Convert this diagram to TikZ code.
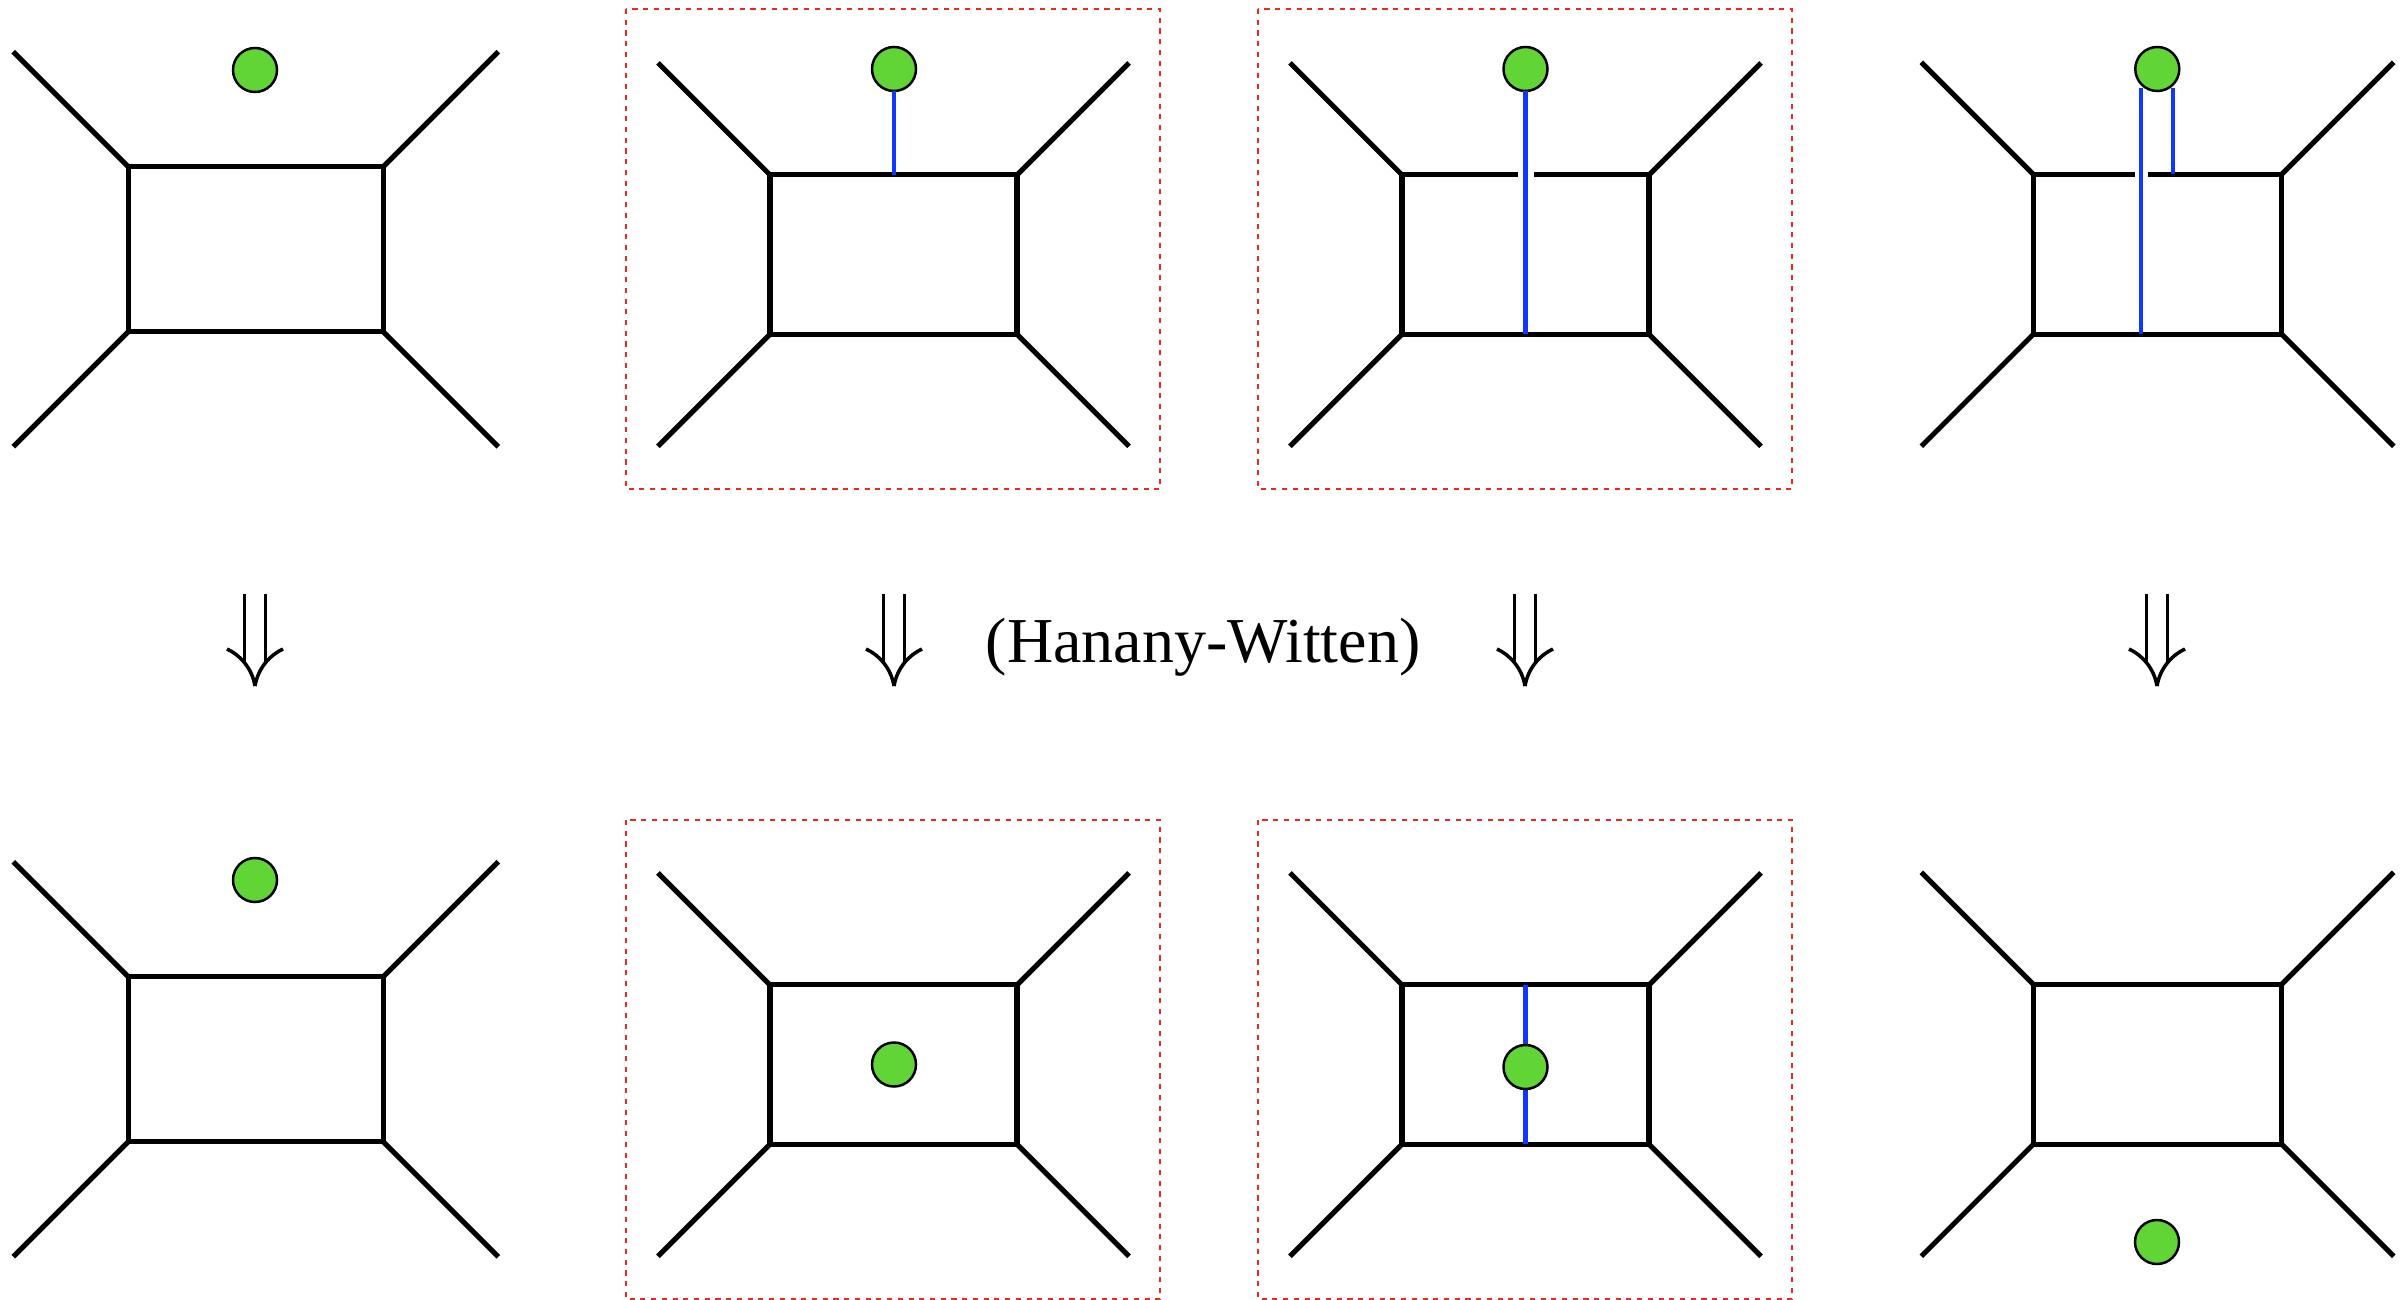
\documentclass[tikz,border=0pt]{standalone}
\usepackage{fontspec}
\setmainfont{Liberation Serif}
\usetikzlibrary{calc}
\definecolor{ballgreen}{RGB}{98,213,54}
\definecolor{dblue}{RGB}{15,55,255}
\definecolor{dred}{RGB}{237,40,30}
\tikzset{
  bk/.style={black, line width=1.45pt, line cap=butt, line join=miter},
  bl/.style={dblue, line width=1.4pt},
  ball/.style={circle, fill=ballgreen, draw=black, line width=0.7pt, minimum size=0.44cm, inner sep=0pt, outer sep=0pt},
  redbox/.style={dred, line width=0.8pt, dash pattern=on 1.45pt off 1.6pt},
  gapw/.style={white, line width=1.9pt},
  arrw/.style={black, line width=1pt},
  lbl/.style={font=\fontsize{18.2}{22}\selectfont, anchor=base, inner sep=0pt}
}
% #1 name, #2 cx, #3 cy, #4 half width, #5 half height, #6 leg length
\newcommand\hwpanel[6]{%
  \coordinate (#1-tl) at ({#2-#4},{#3-#5});
  \coordinate (#1-tr) at ({#2+#4},{#3-#5});
  \coordinate (#1-bl) at ({#2-#4},{#3+#5});
  \coordinate (#1-br) at ({#2+#4},{#3+#5});
  \coordinate (#1-tm) at (#2,{#3-#5});
  \coordinate (#1-bm) at (#2,{#3+#5});
  \coordinate (#1-otl) at ({#2-#4-#6},{#3-#5-#6});
  \coordinate (#1-otr) at ({#2+#4+#6},{#3-#5-#6});
  \coordinate (#1-obl) at ({#2-#4-#6},{#3+#5+#6});
  \coordinate (#1-obr) at ({#2+#4+#6},{#3+#5+#6});
  \draw[bk] (#1-tl) -- (#1-tr) -- (#1-br) -- (#1-bl) -- cycle;
  \draw[bk] (#1-tl) -- (#1-otl);
  \draw[bk] (#1-tr) -- (#1-otr);
  \draw[bk] (#1-bl) -- (#1-obl);
  \draw[bk] (#1-br) -- (#1-obr);
}
% #1 name, #2 x
\newcommand\dnarrow[2]{%
  \coordinate (#1-tip) at (#2,686);
  \draw[arrw] ({#2-10.5},594) -- ({#2-10.5},662);
  \draw[arrw] ({#2+10.5},594) -- ({#2+10.5},662);
  \draw[arrw] ({#2-28},649) .. controls ({#2-15},655) and ({#2-3},668) .. (#1-tip);
  \draw[arrw] ({#2+28},649) .. controls ({#2+15},655) and ({#2+3},668) .. (#1-tip);
}
\begin{document}
\begin{tikzpicture}[x=0.01cm,y=-0.01cm]
\useasboundingbox (0,0) rectangle (2405,1300);

% red dashed frames
\draw[redbox] (626,9) rectangle (1160,489);
\draw[redbox] (1258,9) rectangle (1792,489);
\draw[redbox] (626,820) rectangle (1160,1299);
\draw[redbox] (1258,820) rectangle (1792,1299);

% ---------- top row ----------
\hwpanel{p1}{255.8}{249.2}{127.5}{82.5}{115}
\hwpanel{p2}{893.5}{254.6}{123.5}{79.7}{112}
\hwpanel{p3}{1525.5}{254.6}{123.5}{79.7}{112}
\hwpanel{p4}{2157.5}{254.3}{124.2}{80}{112}

\node[ball] (c1) at (255,70) {};

\node[ball] (c2) at (894,69) {};
\draw[bl] (c2.south) -- (c2.south |- p2-tm);

\coordinate (p3-g) at (1526,174.9);
\draw[gapw] ($(p3-g)+(-8,0)$) -- ($(p3-g)+(8,0)$);
\node[ball] (c3) at (1525.5,69) {};
\draw[bl] (c3.south) -- (c3.south |- p3-bm);

\coordinate (p4-s1) at (2141,88);
\coordinate (p4-s2) at (2173,88);
\draw[gapw] ($(p4-s1 |- p4-tm)+(-6.5,0)$) -- ($(p4-s1 |- p4-tm)+(6.5,0)$);
\draw[bl] (p4-s1) -- (p4-s1 |- p4-bm);
\draw[bl] (p4-s2) -- (p4-s2 |- p4-tm);
\node[ball] (c4) at (2157.3,69) {};

% ---------- arrows and label ----------
\dnarrow{a1}{255}
\dnarrow{a2}{894}
\dnarrow{a3}{1525}
\dnarrow{a4}{2157}
\node[lbl] (hw) at (1203,662.6) {(Hanany-Witten)};

% ---------- bottom row ----------
\hwpanel{q1}{255.8}{1059.2}{127.5}{82.5}{115}
\hwpanel{q2}{893.5}{1064.6}{123.5}{79.7}{112}
\hwpanel{q3}{1525.5}{1064.6}{123.5}{79.7}{112}
\hwpanel{q4}{2157.5}{1064.3}{124.2}{80}{112}

\node[ball] (d1) at (255,880) {};
\node[ball] (d2) at (894,1064.5) {};
\draw[bl] (q3-tm) -- (q3-bm);
\node[ball] (d3) at (1525.5,1067) {};
\node[ball] (d4) at (2157,1242) {};
\end{tikzpicture}
\end{document}
